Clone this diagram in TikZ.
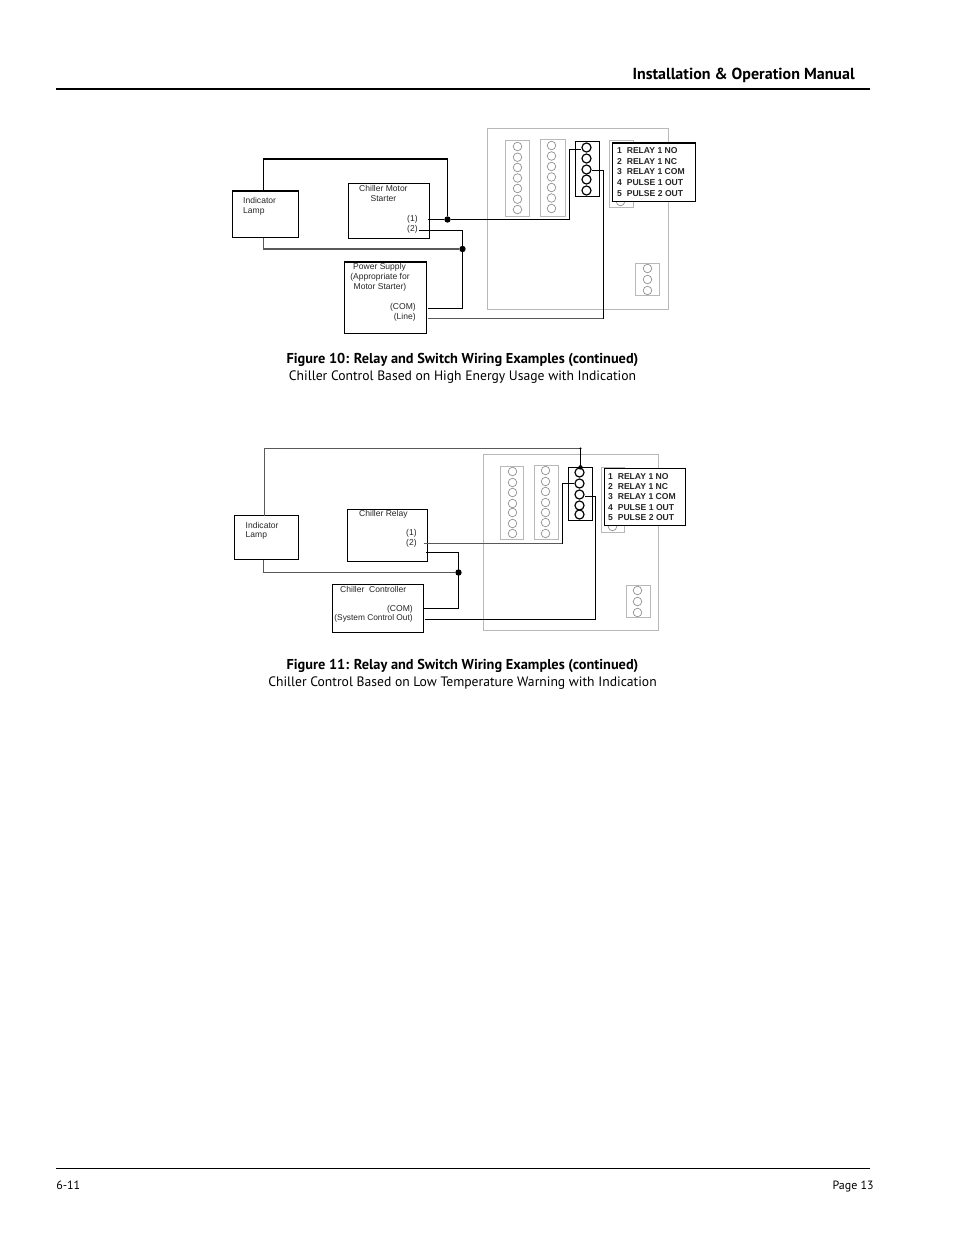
\documentclass[tikz,border=0pt]{standalone}
\usepackage{fontspec}
\setmainfont{Liberation Sans}
\newfontfamily\manual{PT Sans}
\usetikzlibrary{fit,calc}
\definecolor{brd}{gray}{0.72}
\tikzset{
 x=0.75pt,y=-0.75pt,
 board/.style={draw=brd,line width=0.8pt,inner sep=0,fit={#1}},
 blk/.style={draw=black,line width=0.85pt,inner sep=0,fill=white,fit={#1}},
 hole/.style={circle,draw=black!45,line width=0.5pt,minimum size=6.4pt,inner sep=0},
 pin/.style={circle,draw=black,line width=0.9pt,minimum size=6.8pt,inner sep=0},
 dot/.style={circle,fill=black,minimum size=4.8pt,inner sep=0},
 wire/.style={draw=black,line width=0.9pt},
 gwire/.style={draw=black!65,line width=1.2pt},
 lab/.style={font=\fontsize{6.4}{7}\selectfont,inner sep=0,anchor=base west,text=black!85,xshift=-0.4pt},
 labr/.style={font=\fontsize{6.4}{7}\selectfont,inner sep=0,anchor=base east,text=black!85,xshift=-0.4pt},
 labc/.style={font=\fontsize{6.4}{7}\selectfont,inner sep=0,anchor=base,text=black!85,xshift=-0.4pt},
 leg/.style={font=\fontsize{6.45}{7}\selectfont\bfseries,inner sep=0,anchor=base west,text=black!85,xshift=-0.4pt},
 capb/.style={font=\manual\fontsize{10.75}{12}\selectfont\bfseries,inner sep=0,anchor=base},
 capn/.style={font=\manual\fontsize{10.23}{12}\selectfont,inner sep=0,anchor=base},
}
\begin{document}
\begin{tikzpicture}
\useasboundingbox (0,0) rectangle (954,1235);
% header and footer
\node[font=\manual\fontsize{12}{14}\selectfont\bfseries,inner sep=0,anchor=base east] (title) at (855,79) {Installation \& Operation Manual};
\coordinate (hl) at (56,89); \coordinate (hr) at (870,89);
\draw[line width=1.5pt] (hl) -- (hr);
\coordinate (fl) at (56,1168.5); \coordinate (fr) at (870,1168.5);
\draw[line width=0.55pt] (fl) -- (fr);
\node[font=\manual\fontsize{9}{11}\selectfont,inner sep=0,anchor=base west] (fno) at (56,1189) {6-11};
\node[font=\manual\fontsize{9}{11}\selectfont,inner sep=0,anchor=base east] (pg) at (874,1189) {Page 13};
% captions
\node[capb] (c10a) at (462.5,363) {Figure 10: Relay and Switch Wiring Examples (continued)};
\node[capn] (c10b) at (462.5,380) {Chiller Control Based on High Energy Usage with Indication};
\node[capb] (c11a) at (462.5,669) {Figure 11: Relay and Switch Wiring Examples (continued)};
\node[capn] (c11b) at (462.5,686) {Chiller Control Based on Low Temperature Warning with Indication};

\begin{scope}[shift={(0.5,0.5)}]
%%%% Figure 10
\node[board={(487,128)(668,309)}] (b1) {};
\node[board={(505,140)(529,216)}] (b1s1) {};
\node[board={(540,139)(565,216)}] (b1s2) {};
\node[board={(609,140)(633,207)}] (b1s3) {};
\node[board={(635,263)(659,295)}] (b1s4) {};
\foreach \i/\y in {1/146,2/156.7,3/167,4/177.5,5/188,6/198.7,7/209}{
 \node[hole] (b1a\i) at (517,\y) {};
}
\foreach \i/\y in {1/145,2/155.5,3/166,4/176.5,5/187,6/197.5,7/208}{
 \node[hole] (b1b\i) at (551,\y) {};
}
\node[hole] (b1c7) at (620,201) {};
\foreach \i/\y in {1/268,2/279,3/290}{
 \node[hole] (b1d\i) at (647,\y) {};
}
\node[blk={(575,141)(599,196)}] (t1) {};
\foreach \i/\y in {1/147,2/158,3/169,4/179,5/190}{
 \node[pin] (t1p\i) at (586,\y) {};
}
\node[blk={(612,142.5)(695,201)}] (l1) {};
\node[leg] (l1a) at (617,153) {1\ \ RELAY 1 NO};
\node[leg] (l1b) at (617,164) {2\ \ RELAY 1 NC};
\node[leg] (l1c) at (617,174) {3\ \ RELAY 1 COM};
\node[leg] (l1d) at (617,185) {4\ \ PULSE 1 OUT};
\node[leg] (l1e) at (617,196) {5\ \ PULSE 2 OUT};
\node[blk={(232,190.5)(298,237)}] (lamp1) {};
\node[lab] (lamp1a) at (243,203) {Indicator};
\node[lab] (lamp1b) at (243,213) {Lamp};
\node[blk={(348,183)(429,238)}] (mot) {};
\node[lab] (mota) at (359,191) {Chiller Motor};
\node[labc] (motb) at (383.5,201) {Starter};
\node[lab] (mot1) at (407,221) {(1)};
\node[lab] (mot2) at (407,231) {(2)};
\node[blk={(344,261.5)(426,333)}] (pwr) {};
\node[lab] (pwra) at (353,269) {Power Supply};
\node[labc] (pwrb) at (380,279) {(Appropriate for};
\node[labc] (pwrc) at (380,289) {Motor Starter)};
\node[labr] (pwrd) at (416,309) {(COM)};
\node[labr] (pwre) at (416,319) {(Line)};
% wire points
\coordinate (w1a) at (263,191);
\coordinate (w1b) at (263,158.5);
\coordinate (w1c) at (447,158.5);
\node[dot] (j1) at (447,219) {};
\coordinate (w1d) at (427,219);
\coordinate (w1e) at (569,219);
\coordinate (w1f) at (569,149);
\coordinate (w2a) at (263,237);
\coordinate (w2b) at (263,248.5);
\node[dot] (j2) at (462,248.5) {};
\coordinate (w3a) at (418,230);
\coordinate (w3b) at (462,230);
\coordinate (w3c) at (462,308);
\coordinate (w3d) at (427,308);
\coordinate (w4a) at (427,318);
\coordinate (w4b) at (603,318);
\coordinate (w4c) at (603,170);
\draw[wire] (lamp1.north -| w1a) -- (w1b) -- (w1c) -- (j1);
\draw[wire] (w1d) -- (j1) -- (w1e) -- (w1f) -- (t1p1.west |- w1f);
\draw[gwire] (lamp1.south -| w2a) -- (w2b) -- (j2);
\draw[wire] (w3a) -- (w3b) -- (w3c) -- (w3d);
\draw[gwire] (w4a) -- (w4b);
\draw[wire] (w4b) -- (w4c) -- (t1p3.east |- w4c);

%%%% Figure 11
\node[board={(483,454)(658,630)}] (b2) {};
\node[board={(500,466)(523,539)}] (b2s1) {};
\node[board={(534,465)(558,539)}] (b2s2) {};
\node[board={(601,467)(624,532)}] (b2s3) {};
\node[board={(626,585)(650,617)}] (b2s4) {};
\foreach \i/\y in {1/471,2/482,3/492,4/503,5/512,6/523,7/533}{
 \node[hole] (b2a\i) at (512,\y) {};
}
\foreach \i/\y in {1/470,2/481,3/491,4/502,5/512,6/522,7/533}{
 \node[hole] (b2b\i) at (545,\y) {};
}
\node[hole] (b2c7) at (612,526) {};
\foreach \i/\y in {1/590,2/601,3/612}{
 \node[hole] (b2d\i) at (637,\y) {};
}
\node[blk={(568,467)(592,520)}] (t2) {};
\foreach \i/\y in {1/472,2/483,3/494,4/505,5/514}{
 \node[pin] (t2p\i) at (579,\y) {};
}
\node[blk={(604,468)(685,525)}] (l2) {};
\node[leg] (l2a) at (608,478.5) {1\ \ RELAY 1 NO};
\node[leg] (l2b) at (608,489) {2\ \ RELAY 1 NC};
\node[leg] (l2c) at (608,499) {3\ \ RELAY 1 COM};
\node[leg] (l2d) at (608,510) {4\ \ PULSE 1 OUT};
\node[leg] (l2e) at (608,520) {5\ \ PULSE 2 OUT};
\node[blk={(234,515)(298,559)}] (lamp2) {};
\node[lab] (lamp2a) at (245.5,528) {Indicator};
\node[lab] (lamp2b) at (245.5,537) {Lamp};
\node[blk={(347,509)(427,561)}] (rel) {};
\node[lab] (rela) at (359,516) {Chiller Relay};
\node[lab] (rel1) at (406,535) {(1)};
\node[lab] (rel2) at (406,545) {(2)};
\node[blk={(332,584)(423,632)}] (ctl) {};
\node[lab] (ctla) at (340,592) {Chiller\ \ Controller};
\node[labr] (ctlb) at (413,611) {(COM)};
\node[labr,font=\fontsize{6.25}{7}\selectfont] (ctlc) at (413,620) {(System Control Out)};
\coordinate (x1a) at (264,515);
\coordinate (x1b) at (264,448);
\coordinate (x1c) at (580,448);
\coordinate (x2a) at (423,543);
\coordinate (x2b) at (562,543);
\coordinate (x2c) at (562,483);
\coordinate (x3a) at (263,559);
\coordinate (x3b) at (263,572);
\node[dot] (j3) at (458,572) {};
\coordinate (x4a) at (425,552);
\coordinate (x4b) at (458,552);
\coordinate (x4c) at (458,608);
\coordinate (x4d) at (422,608);
\coordinate (x5a) at (424,619);
\coordinate (x5b) at (595,619);
\coordinate (x5c) at (595,496);
\draw[gwire] (x1a) -- (x1b) -- (x1c);
\draw[wire] (x1c) -- (t2p1.north -| x1c);
\fill (t2p1.north -| x1c) circle (2.2);
\fill (x1c) circle (1.2);
\draw[gwire] (x2a) -- (x2b);
\draw[wire] (x2b) -- (x2c) -- (t2p2.west);
\draw[gwire] (x3a) -- (x3b) -- (j3);
\draw[wire] (x4a) -- (x4b) -- (x4c) -- (x4d);
\draw[wire] (x5a) -- (x5b) -- (x5c) -- (t2p3.east |- x5c);
\end{scope}
\end{tikzpicture}
\end{document}
